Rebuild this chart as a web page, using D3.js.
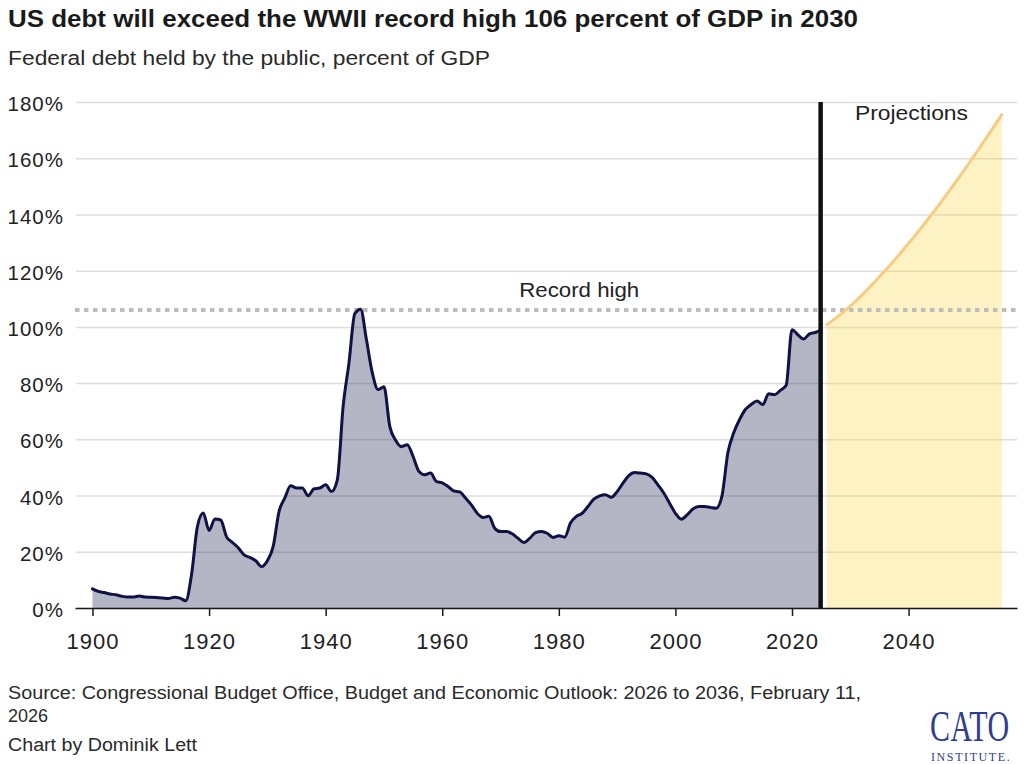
<!DOCTYPE html>
<html>
<head>
<meta charset="utf-8">
<script src="https://cdn.jsdelivr.net/npm/d3@7"></script>
<style>
	body { margin: 0; background: #fff; }
	svg { display: block; font-family: "Liberation Sans", Arial, sans-serif; }
</style>
</head>
<body>
<div id="chart"></div>
<script>
const AREA_COLOR = "#0f1245";
const LINE_COLOR = "#0f1245";
const PROJ_FILL = "#f9d94c";
const PROJ_LINE = "#f7cc82";
const GRID_COLOR = "#dedede";
const TEXT_COLOR = "#222";

// historical, 1900-2025
const HIST_YEARS = d3.range(1900, 2026);
const HIST_DEBT = [
	6.8, 5.9, 5.5, 5.0, 4.7, 4.2, 3.9, 3.9, 4.3, 3.9,
	3.8, 3.7, 3.6, 3.4, 3.8, 3.5, 2.6, 12.0, 29.0, 33.8,
	27.6, 31.7, 31.3, 25.3, 23.3, 21.4, 18.9, 18.0, 16.8, 14.7,
	16.8, 21.9, 34.3, 39.2, 43.5, 42.7, 42.7, 39.9, 42.4, 42.7,
	43.8, 41.4, 45.6, 71.7, 87.2, 104.7, 106.3, 95.4, 83.7, 77.7,
	78.7, 64.6, 59.7, 57.4, 58.1, 53.9, 48.6, 47.4, 48.0, 45.0,
	44.5, 43.2, 41.6, 41.3, 39.1, 36.7, 33.7, 32.2, 32.6, 28.4,
	27.2, 27.2, 26.4, 24.8, 23.3, 24.8, 26.8, 27.2, 26.6, 25.1,
	25.7, 25.2, 30.2, 32.6, 33.7, 36.1, 38.7, 39.9, 40.3, 39.4,
	41.4, 44.4, 47.1, 48.2, 48.0, 47.7, 46.5, 43.8, 40.9, 37.3,
	33.7, 31.6, 33.1, 35.2, 36.1, 36.1, 35.8, 35.5, 40.0, 55.2,
	62.3, 67.0, 70.6, 72.4, 73.6, 72.4, 76.2, 75.9, 77.4, 79.2,
	99.0, 97.2, 95.7, 97.5, 98.0, 99.0
];

// CBO projections, 2026-2056
const PROJ_YEARS = d3.range(2026, 2057);
const PROJ_DEBT = [
	100.8, 102.3, 103.9, 105.6, 107.4, 109.3, 111.3, 113.4, 115.6, 117.8,
	120.1, 122.4, 124.8, 127.2, 129.7, 132.2, 134.8, 137.4, 140.1, 142.8,
	145.6, 148.4, 151.3, 154.2, 157.1, 160.1, 163.1, 166.2, 169.3, 172.4,
	175.5
];

const YEAR_TICKS = [1900, 1920, 1940, 1960, 1980, 2000, 2020, 2040];
const PCT_TICKS = [0, 20, 40, 60, 80, 100, 120, 140, 160, 180];
const RECORD_HIGH = 106;
const LAST_ACTUAL = 2025;

const width = 1024;
const height = 764;

const svg = d3
	.select("#chart")
	.append("svg")
	.attr("width", width)
	.attr("height", height);

const x = d3.scaleLinear().domain([1897, 2058.6]).range([75, 1017]);
const y = d3.scaleLinear().domain([0, 180]).range([608, 102]);

// titles
svg.append("text")
	.attr("x", 8)
	.attr("y", 27)
	.attr("font-size", "23.5px")
	.attr("font-weight", "bold")
	.attr("fill", "#1a1a1a")
	.attr("textLength", 850)
	.attr("lengthAdjust", "spacingAndGlyphs")
	.text("US debt will exceed the WWII record high 106 percent of GDP in 2030");

svg.append("text")
	.attr("x", 8)
	.attr("y", 65)
	.attr("font-size", "20.5px")
	.attr("fill", "#2a2a2a")
	.attr("textLength", 482)
	.attr("lengthAdjust", "spacingAndGlyphs")
	.text("Federal debt held by the public, percent of GDP");

// y axis + gridlines
const yAxis = svg
	.append("g")
	.attr("transform", "translate(76,0)")
	.call(
		d3.axisLeft(y)
			.tickValues(PCT_TICKS)
			.tickSize(-(1017 - 76))
			.tickPadding(12)
			.tickFormat((d) => d + "%")
	);
yAxis.select(".domain").remove();
yAxis.selectAll(".tick line")
	.attr("stroke", GRID_COLOR)
	.attr("stroke-width", 1.5);
yAxis.selectAll(".tick text")
	.attr("font-size", "20.5px")
	.attr("font-family", "Liberation Sans, Arial, sans-serif")
	.attr("letter-spacing", "1px")
	.attr("fill", TEXT_COLOR)
	.attr("dy", "0.42em");

// areas
const histPoints = HIST_YEARS.map((yr, i) => [yr, HIST_DEBT[i]]);
const projPoints = PROJ_YEARS.map((yr, i) => [yr, PROJ_DEBT[i]]);

const area = d3
	.area()
	.x((d) => x(d[0]))
	.y0(y(0))
	.y1((d) => y(d[1]))
	.curve(d3.curveMonotoneX);

const line = d3
	.line()
	.x((d) => x(d[0]))
	.y((d) => y(d[1]))
	.curve(d3.curveMonotoneX);

svg.append("path")
	.attr("d", area(histPoints))
	.attr("fill", AREA_COLOR)
	.attr("fill-opacity", 0.31);

svg.append("path")
	.attr("d", area(projPoints))
	.attr("fill", PROJ_FILL)
	.attr("fill-opacity", 0.33);

// record high
svg.append("line")
	.attr("x1", 75)
	.attr("x2", 1017)
	.attr("y1", y(RECORD_HIGH))
	.attr("y2", y(RECORD_HIGH))
	.attr("stroke", "#bdbdbd")
	.attr("stroke-width", 4)
	.attr("stroke-dasharray", "4.5,4.5");

svg.append("text")
	.attr("x", x(1983.5))
	.attr("y", y(RECORD_HIGH) - 13)
	.attr("text-anchor", "middle")
	.attr("font-size", "21px")
	.attr("fill", TEXT_COLOR)
	.attr("textLength", 120)
	.attr("lengthAdjust", "spacingAndGlyphs")
	.text("Record high");

// lines
svg.append("path")
	.attr("d", line(histPoints))
	.attr("fill", "none")
	.attr("stroke", LINE_COLOR)
	.attr("stroke-width", 3)
	.attr("stroke-linejoin", "round")
	.attr("stroke-linecap", "round");

svg.append("path")
	.attr("d", line(projPoints))
	.attr("fill", "none")
	.attr("stroke", PROJ_LINE)
	.attr("stroke-width", 3)
	.attr("stroke-linecap", "round");

// x axis
const xAxis = svg
	.append("g")
	.attr("transform", "translate(0," + y(0) + ")")
	.call(
		d3.axisBottom(x)
			.tickValues(YEAR_TICKS)
			.tickSize(8)
			.tickSizeOuter(0)
			.tickPadding(17)
			.tickFormat(d3.format("d"))
	);
xAxis.select(".domain")
	.attr("stroke", "#1a1a1a")
	.attr("stroke-width", 1.5);
xAxis.selectAll(".tick line")
	.attr("stroke", "#1a1a1a")
	.attr("stroke-width", 1.5);
xAxis.selectAll(".tick text")
	.attr("font-size", "22px")
	.attr("font-family", "Liberation Sans, Arial, sans-serif")
	.attr("letter-spacing", "1px")
	.attr("fill", TEXT_COLOR);

// divider between actuals and projections
svg.append("line")
	.attr("x1", x(LAST_ACTUAL) - 0.5)
	.attr("x2", x(LAST_ACTUAL) - 0.5)
	.attr("y1", y(180))
	.attr("y2", y(0))
	.attr("stroke", "#111")
	.attr("stroke-width", 4.5);

svg.append("text")
	.attr("x", 855)
	.attr("y", 120)
	.attr("font-size", "21px")
	.attr("fill", TEXT_COLOR)
	.attr("textLength", 113)
	.attr("lengthAdjust", "spacingAndGlyphs")
	.text("Projections");

// footer
const footer = svg
	.append("g")
	.attr("font-size", "18px")
	.attr("fill", "#2a2a2a");

footer.append("text")
	.attr("x", 8)
	.attr("y", 699)
	.attr("textLength", 853)
	.attr("lengthAdjust", "spacingAndGlyphs")
	.text("Source: Congressional Budget Office, Budget and Economic Outlook: 2026 to 2036, February 11,");
footer.append("text").attr("x", 8).attr("y", 722).text("2026");
footer.append("text")
	.attr("x", 8)
	.attr("y", 751)
	.attr("textLength", 189)
	.attr("lengthAdjust", "spacingAndGlyphs")
	.text("Chart by Dominik Lett");

// logo: tall, squeezed serif lettering
const logo = svg
	.append("g")
	.attr("fill", "#2f3d8f")
	.attr("font-family", "Liberation Serif, Times New Roman, serif");

logo.append("text")
	.attr("transform", "translate(930,740.5) scale(1,1.5)")
	.attr("font-size", "30px")
	.attr("letter-spacing", "0.5px")
	.text("CATO");
logo.append("text")
	.attr("x", 931)
	.attr("y", 761)
	.attr("font-size", "12px")
	.attr("letter-spacing", "1.6px")
	.text("INSTITUTE.");
</script>
</body>
</html>
